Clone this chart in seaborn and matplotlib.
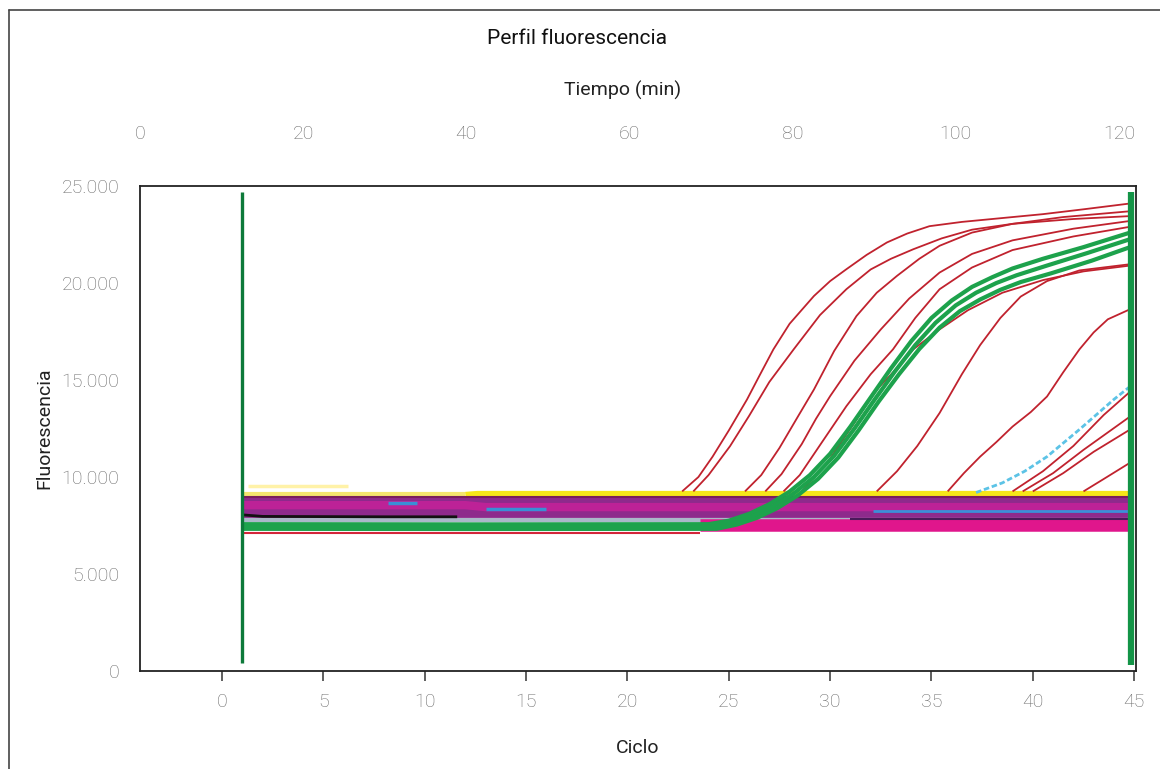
import numpy as np
import pandas as pd
import matplotlib
matplotlib.use('Agg')
import matplotlib.pyplot as plt
import seaborn as sns
from matplotlib.lines import Line2D
from matplotlib.ticker import FuncFormatter

# ── Data (cycle, fluorescence) ─────────────────────────────────────
# red amplification curves
red1_cycle = [22.7, 23.5, 24.2, 25.0, 25.9, 26.5, 27.2, 28.0, 29.2, 30.0, 30.8, 31.8, 32.8, 33.8, 34.9, 36.5, 38.5, 40.5, 42.5, 44.8]
red1_fluor = [9260, 10000, 11050, 12400, 14000, 15200, 16580, 17900, 19330, 20100, 20710, 21450, 22090, 22550, 22930, 23150, 23350, 23550, 23800, 24100]
red2_cycle = [23.25, 24.0, 25.06, 26.0, 27.0, 28.2, 29.5, 30.8, 32.0, 33.0, 34.1, 35.5, 37.0, 39.0, 42.0, 44.8]
red2_fluor = [9260, 10100, 11590, 13150, 14900, 16580, 18350, 19680, 20700, 21250, 21740, 22300, 22750, 23050, 23300, 23450]
red3_cycle = [25.8, 26.6, 27.5, 28.4, 29.2, 30.2, 31.3, 32.3, 33.3, 34.4, 35.4, 37.0, 39.0, 41.5, 44.8]
red3_fluor = [9260, 10100, 11500, 13100, 14510, 16500, 18300, 19500, 20370, 21250, 21920, 22600, 23050, 23400, 23700]
red4_cycle = [26.8, 27.6, 28.6, 29.3, 30.0, 31.2, 32.5, 33.9, 35.4, 37.0, 39.0, 42.0, 44.8]
red4_fluor = [9260, 10150, 11700, 13000, 14170, 16000, 17610, 19200, 20540, 21500, 22200, 22800, 23200]
red5_cycle = [27.7, 28.5, 29.6, 30.8, 32.0, 33.1, 34.2, 35.4, 37.0, 39.0, 42.0, 44.8]
red5_fluor = [9260, 10100, 11800, 13650, 15300, 16580, 18200, 19680, 20800, 21700, 22400, 22900]
red6_cycle = [28.6, 29.9, 31.2, 32.2, 33.1, 34.1, 35.4, 36.8, 38.5, 40.5, 42.5, 44.8]
red6_fluor = [9260, 10800, 12800, 14400, 15390, 16580, 17610, 18600, 19500, 20150, 20600, 20900]
red7_cycle = [32.3, 33.3, 34.3, 35.4, 36.5, 37.4, 38.4, 39.4, 40.7, 42.3, 44.8]
red7_fluor = [9260, 10300, 11600, 13300, 15300, 16800, 18200, 19300, 20100, 20650, 20970]
red8_cycle = [35.8, 36.6, 37.4, 38.2, 39.0, 39.9, 40.7, 41.5, 42.3, 43.0, 43.7, 44.8]
red8_fluor = [9260, 10200, 11050, 11800, 12600, 13350, 14150, 15400, 16580, 17450, 18130, 18650]
red9_cycle = [39.0, 40.5, 42.0, 43.5, 44.8]
red9_fluor = [9260, 10300, 11600, 13200, 14400]
red10_cycle = [39.5, 41.0, 42.5, 44.8]
red10_fluor = [9260, 10200, 11400, 13120]
red11_cycle = [40.0, 41.5, 43.0, 44.8]
red11_fluor = [9260, 10200, 11300, 12450]
red12_cycle = [42.5, 43.5, 44.8]
red12_fluor = [9260, 9900, 10740]
cyan_cycle = [37.2, 38.5, 39.6, 40.7, 42.3, 44.0, 44.8]
cyan_fluor = [9200, 9700, 10300, 11050, 12450, 14000, 14670]

# green amplification curves
green1_cycle = [1.0, 12.0, 24.0, 25.0, 26.0, 27.0, 28.0, 29.0, 30.0, 31.0, 32.0, 33.0, 34.0, 35.0, 36.0, 37.0, 38.0, 39.0, 40.5, 42.5, 44.8]
green1_fluor = [7570, 7560, 7570, 7750, 8100, 8600, 9250, 10100, 11200, 12600, 14100, 15600, 17000, 18200, 19100, 19800, 20300, 20750, 21250, 21850, 22600]
green2_cycle = [1.0, 12.0, 24.2, 25.2, 26.2, 27.2, 28.2, 29.2, 30.2, 31.2, 32.2, 33.2, 34.2, 35.2, 36.2, 37.2, 38.2, 39.2, 40.7, 42.7, 44.8]
green2_fluor = [7450, 7440, 7450, 7650, 8000, 8500, 9150, 10000, 11100, 12500, 14000, 15450, 16800, 17950, 18850, 19500, 20000, 20400, 20900, 21550, 22260]
green3_cycle = [1.0, 12.0, 24.4, 25.4, 26.4, 27.4, 28.4, 29.4, 30.4, 31.4, 32.4, 33.4, 34.4, 35.4, 36.4, 37.4, 38.4, 39.4, 40.9, 42.9, 44.8]
green3_fluor = [7330, 7320, 7330, 7550, 7900, 8400, 9050, 9900, 11000, 12400, 13900, 15300, 16600, 17700, 18550, 19150, 19650, 20050, 20500, 21150, 21850]

# baseline band
ylight_cycle = [1.3, 6.2]
ylight_fluor = [9520, 9520]
yfaint_cycle = [1.0, 12.0]
yfaint_fluor = [9100, 9100]
yellow_cycle = [12.0, 12.6, 44.8]
yellow_fluor = [9100, 9150, 9150]
purple_cycle = [1.0, 44.8]
purple_fluor = [8440, 8440]
magenta_cycle = [1.0, 12.0, 13.0, 44.8]
magenta_fluor = [8550, 8550, 8450, 8450]
edge_cycle = [1.0, 44.8]
edge_fluor = [8960, 8960]
black_cycle = [1.0, 2.0, 8.0, 11.6]
black_fluor = [8050, 7970, 7950, 7950]
steel_cycle = [1.0, 44.8]
steel_fluor = [7780, 7780]
pink_cycle = [23.6, 44.8]
pink_fluor = [7520, 7520]
dark_cycle = [31.0, 44.8]
dark_fluor = [7830, 7830]
redbase_cycle = [1.0, 23.6]
redbase_fluor = [7110, 7110]
blue_cycle = [32.1, 44.8]
blue_fluor = [8230, 8230]
bluedash1_cycle = [8.2, 9.6]
bluedash1_fluor = [8650, 8650]
bluedash2_cycle = [13.0, 16.0]
bluedash2_fluor = [8350, 8350]

# reference markers (vertical lines at first and last cycle)
marker_cycle = [1.0, 44.85]
marker_bottom = [410, 310]
marker_top = [24690, 24690]

cycle_ticks = [0, 5, 10, 15, 20, 25, 30, 35, 40, 45]
time_ticks = [0, 20, 40, 60, 80, 100, 120]
fluor_ticks = [0, 5000, 10000, 15000, 20000, 25000]

# ── Style ──────────────────────────────────────────────────────────
sns.set_style('white')
plt.rcParams['font.family'] = ['Roboto', 'DejaVu Sans']
tick_grey = '#6a6a6a'

fig = plt.figure(figsize=(11.6, 7.69), dpi=100)
ax = fig.add_axes([0.1207, 0.1274, 0.8586, 0.6307])


def draw(xs, ys, color, lw, **kw):
    sns.lineplot(x=xs, y=ys, ax=ax, color=color, lw=lw, estimator=None,
                 sort=False, solid_capstyle='butt', **kw)


# baseline band
draw(ylight_cycle, ylight_fluor, '#fff2a8', 2.5)
draw(yfaint_cycle, yfaint_fluor, '#f4e56e', 3)
draw(yellow_cycle, yellow_fluor, '#f6e619', 3.8)
draw(steel_cycle, steel_fluor, '#aab8c9', 3)
draw(purple_cycle, purple_fluor, '#8e2a8c', 15)
draw(magenta_cycle, magenta_fluor, '#bd2297', 6)
draw(edge_cycle, edge_fluor, '#7a1d5c', 1.5)
draw(bluedash1_cycle, bluedash1_fluor, '#3a8fd6', 2.5)
draw(bluedash2_cycle, bluedash2_fluor, '#3a8fd6', 2.5)
draw(blue_cycle, blue_fluor, '#3b8fd8', 2)
draw(black_cycle, black_fluor, '#111111', 2)
draw(pink_cycle, pink_fluor, '#e0168c', 9)
draw(dark_cycle, dark_fluor, '#4a1a5a', 1.5)
draw(redbase_cycle, redbase_fluor, '#d4253a', 1.5)

# red curves
red_curves = [(red1_cycle, red1_fluor), (red2_cycle, red2_fluor), (red3_cycle, red3_fluor),
              (red4_cycle, red4_fluor), (red5_cycle, red5_fluor), (red6_cycle, red6_fluor),
              (red7_cycle, red7_fluor), (red8_cycle, red8_fluor), (red9_cycle, red9_fluor),
              (red10_cycle, red10_fluor), (red11_cycle, red11_fluor), (red12_cycle, red12_fluor)]
for xs, ys in red_curves:
    draw(xs, ys, '#c0222e', 1.3)
draw(cyan_cycle, cyan_fluor, '#5cc3e6', 2, linestyle=(0, (2, 1)))

# green curves
for xs, ys in [(green1_cycle, green1_fluor), (green2_cycle, green2_fluor), (green3_cycle, green3_fluor)]:
    draw(xs, ys, '#1da24c', 3)

# vertical markers
ax.vlines(marker_cycle[0], marker_bottom[0], marker_top[0], color='#0d7a3a', lw=2.4)
ax.vlines(marker_cycle[1], marker_bottom[1], marker_top[1], color='#139447', lw=4.5)

# ── Axes ───────────────────────────────────────────────────────────
ax.set_xlim(-4.05, 45.09)
ax.set_ylim(0, 25000)
ax.set_xticks(cycle_ticks)
ax.set_yticks(fluor_ticks)
ax.yaxis.set_major_formatter(FuncFormatter(lambda v, p: f'{v:,.0f}'.replace(',', '.')))
for s in ax.spines.values():
    s.set_color('#222222')
    s.set_linewidth(1.3)
    s.set_visible(True)
ax.tick_params(axis='both', direction='out', width=1.1, color='#333333',
               labelcolor=tick_grey, labelsize=14)
ax.tick_params(axis='x', length=7, pad=9)
ax.tick_params(axis='y', length=8, pad=7)
ax.set_xlabel('Ciclo', fontsize=14, color='#222222', labelpad=20)
ax.set_ylabel('Fluorescencia', fontsize=14, color='#222222', labelpad=6)

ax2 = ax.twiny()
ax2.set_xlim(0.37, 122.08)
ax2.set_xticks(time_ticks)
ax2.tick_params(axis='x', length=0, pad=31, labelcolor=tick_grey, labelsize=14)
for s in ax2.spines.values():
    s.set_visible(False)
ax2.set_xlabel('Tiempo (min)', fontsize=14, color='#222222', labelpad=21)
ax2.xaxis.label.set_x(0.484)

for lbl in ax.get_xticklabels() + ax.get_yticklabels() + ax2.get_xticklabels():
    lbl.set_fontweight('light')

fig.text(0.497, 1 - 38 / 769, 'Perfil fluorescencia', ha='center', va='center',
         fontsize=15, color='#111111')

# frame around the figure (top and left only)
fig.add_artist(Line2D([9 / 1160, 9 / 1160], [0, 1 - 10 / 769], transform=fig.transFigure,
                      color='#444444', lw=1.2))
fig.add_artist(Line2D([9 / 1160, 1], [1 - 10 / 769, 1 - 10 / 769], transform=fig.transFigure,
                      color='#444444', lw=1.2))

fig.savefig('out.png', dpi=100)
